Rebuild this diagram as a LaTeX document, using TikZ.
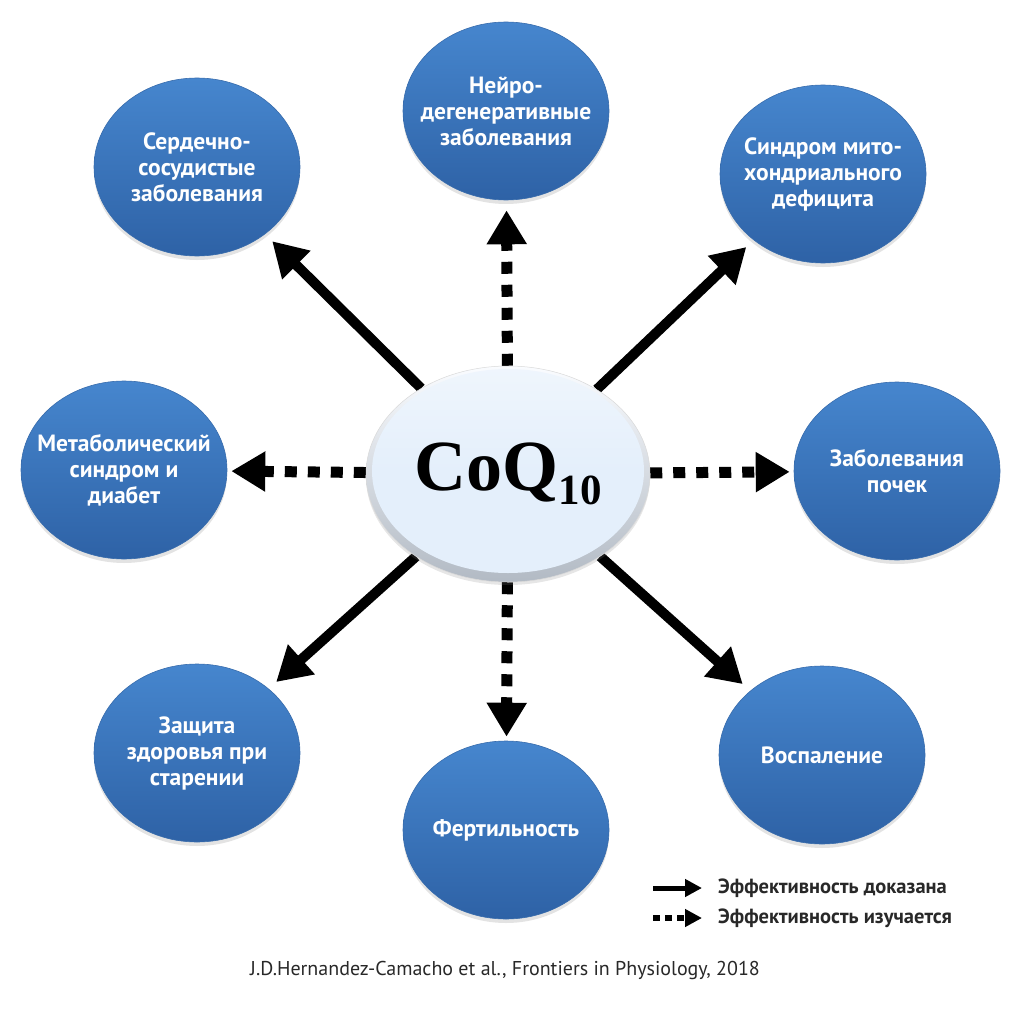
\documentclass[tikz,border=0pt]{standalone}
\usepackage{fontspec}
\setmainfont{PT Sans}
\newfontfamily\coqfont{Liberation Serif}
\usetikzlibrary{arrows.meta,shapes.geometric,shadows,backgrounds}
\definecolor{bluetop}{RGB}{70,134,206}
\definecolor{bluebot}{RGB}{46,98,166}
\definecolor{blueedge}{RGB}{56,108,172}
\definecolor{coqfill}{RGB}{228,239,251}
\definecolor{coqrimtop}{RGB}{250,252,255}
\definecolor{coqrimbot}{RGB}{178,186,196}
\definecolor{legtext}{RGB}{40,40,40}
\tikzset{
  disease/.style={ellipse, minimum width=206pt, minimum height=178pt, inner sep=-30pt,
    top color=bluetop, bottom color=bluebot, draw=blueedge, line width=0.6pt,
    text=white, font=\bfseries\fontsize{23.5}{26}\selectfont, align=center,
    drop shadow={shadow xshift=0pt, shadow yshift=-4pt, opacity=0.22}},
  hubrim/.style={ellipse, minimum width=284pt, minimum height=216pt, inner sep=0pt,
    top color=coqrimtop, bottom color=coqrimbot, draw=gray!30, line width=0.5pt,
    drop shadow={shadow xshift=0pt, shadow yshift=-3pt, opacity=0.2}},
  hubcore/.style={ellipse, minimum width=272pt, minimum height=204pt, inner sep=0pt,
    top color=coqfill!60!white, bottom color=coqfill, middle color=coqfill},
  proven/.style={line width=10pt, -{Triangle[width=38pt,length=34pt]}},
  studied/.style={line width=11pt, dash pattern=on 12pt off 11pt, -{Triangle[width=38pt,length=34pt]}},
  legproven/.style={line width=5pt, -{Triangle[width=17pt,length=17pt]}},
  legstudied/.style={line width=6pt, dash pattern=on 7pt off 5pt, -{Triangle[width=17pt,length=17pt]}},
  legtxt/.style={anchor=west, inner sep=0pt, text=legtext, font=\bfseries\fontsize{20.5}{24}\selectfont},
  captxt/.style={inner sep=0pt, text=legtext, font=\fontsize{20}{24}\selectfont},
}
\begin{document}
\begin{tikzpicture}[x=1pt,y=-1pt]
\useasboundingbox (0,0) rectangle (1024,1024);

% outer nodes
\node[disease] (tl) at (197,167) {Сердечно-\\сосудистые\\заболевания};
\node[disease] (t)  at (506,111) {Нейро-\\дегенеративные\\заболевания};
\node[disease] (tr) at (823,174) {Синдром мито-\\хондриального\\дефицита};
\node[disease] (l)  at (124,470) {Метаболический\\синдром и\\диабет};
\node[disease] (r)  at (897,471) {Заболевания\\почек};
\node[disease] (bl) at (197,753) {Защита\\здоровья при\\старении};
\node[disease] (b)  at (506,830) {Фертильность};
\node[disease] (br) at (822,755) {Воспаление};

% hub
\node[hubrim] (c) at (508,474) {};
\node[hubcore] (ci) at (508,471) {};
\node[inner sep=0pt, font=\coqfont\bfseries\fontsize{72}{72}\selectfont] (coq) at (508,474)
  {CoQ\raisebox{-14pt}{\fontsize{43}{43}\selectfont 10}};

% connectors
\begin{scope}[on background layer]
\draw[proven]  (c) -- (tl) [shorten >=10pt];
\draw[studied] (c) -- (t)  [shorten >=10pt];
\draw[proven]  (c) -- (tr) [shorten >=10pt];
\draw[studied] (c) -- (l)  [shorten >=4pt];
\draw[studied] (c) -- (r)  [shorten >=4pt];
\draw[proven]  (c) -- (bl) [shorten >=10pt];
\draw[studied] (c) -- (b)  [shorten >=4pt];
\draw[proven]  (c) -- (br) [shorten >=10pt];
\end{scope}

% legend
\coordinate (lp1) at (653,888);
\coordinate (lp2) at (702,888);
\coordinate (ls1) at (653,918);
\coordinate (ls2) at (702,918);
\draw[legproven] (lp1) -- (lp2);
\draw[legstudied] (ls1) -- (ls2);
\node[legtxt] (lpt) at (718,888) {Эффективность доказана};
\node[legtxt] (lst) at (718,918) {Эффективность изучается};

% caption
\node[captxt] (cap) at (505,970) {J.D.Hernandez-Camacho et al., Frontiers in Physiology, 2018};
\end{tikzpicture}
\end{document}
